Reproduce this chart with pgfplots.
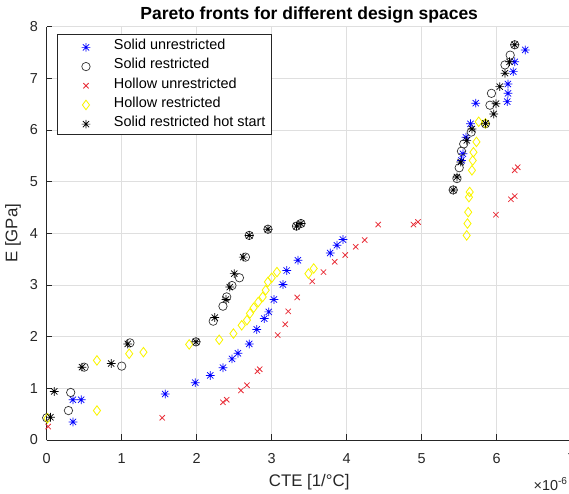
\documentclass[border=0pt]{standalone}
\usepackage{pgfplots}
\pgfplotsset{compat=1.18}
\usepackage{fontspec}
\setmainfont{Liberation Sans}
\definecolor{axgray}{RGB}{38,38,38}
\definecolor{gridgray}{RGB}{223,223,223}
\definecolor{mblue}{RGB}{0,0,255}
\definecolor{mred}{RGB}{232,45,55}
\definecolor{myellow}{RGB}{250,245,0}
\pgfdeclareplotmark{mast}{%
  \pgfpathmoveto{\pgfqpoint{0pt}{\pgfplotmarksize}}\pgfpathlineto{\pgfqpoint{0pt}{-\pgfplotmarksize}}%
  \pgfpathmoveto{\pgfqpoint{\pgfplotmarksize}{0pt}}\pgfpathlineto{\pgfqpoint{-\pgfplotmarksize}{0pt}}%
  \pgfpathmoveto{\pgfqpoint{0.72\pgfplotmarksize}{0.72\pgfplotmarksize}}\pgfpathlineto{\pgfqpoint{-0.72\pgfplotmarksize}{-0.72\pgfplotmarksize}}%
  \pgfpathmoveto{\pgfqpoint{0.72\pgfplotmarksize}{-0.72\pgfplotmarksize}}\pgfpathlineto{\pgfqpoint{-0.72\pgfplotmarksize}{0.72\pgfplotmarksize}}%
  \pgfusepathqstroke}
\begin{document}
\begin{tikzpicture}
\begin{axis}[
  at={(0pt,0pt)}, anchor=south west,
  scale only axis, width=374.85pt, height=295.1pt,
  xmin=0, xmax=7, ymin=0, ymax=8,
  xtick={0,1,2,3,4,5,6,7}, ytick={0,1,2,3,4,5,6,7,8},
  axis x line*=bottom, axis y line*=left,
  axis line style={-, axgray, line width=0.5pt},
  grid=major, major grid style={gridgray, line width=0.5pt},
  tick style={axgray, line width=0.5pt}, major tick length=4pt, tick align=inside,
  ticklabel style={font=\fontsize{10.3}{12}\selectfont, text=axgray},
  /pgf/number format/assume math mode=true,
  xticklabel style={yshift=-6pt},
  yticklabel style={xshift=-2.7pt},
  clip=false,
  only marks,
  title={Pareto fronts for different design spaces},
  every axis title shift=0pt,
  title style={font=\fontsize{12.5}{15}\selectfont\bfseries, at={(axis description cs:0.5,1.0186)}, anchor=base},
  xlabel={CTE [1/°C]},
  xlabel style={font=\fontsize{12}{14}\selectfont, text=axgray, at={(axis description cs:0.5,-0.1128)}, anchor=base},
  ylabel={E [GPa]},
  ylabel style={font=\fontsize{12}{14}\selectfont, text=axgray, at={(axis description cs:-0.056,0.5)}, anchor=base, rotate=0},
  legend style={at={(rel axis cs:0.0196,0.9823)}, anchor=north west, draw=axgray, fill=white,
    font=\fontsize{10.3}{12}\selectfont, inner xsep=0.5pt, inner ysep=1.5pt, row sep=0pt,
    nodes={text height=7.6pt, text depth=2.3pt, inner ysep=1.9pt, inner xsep=3.5pt}},
  legend cell align=left,
  legend image code/.code={\path[draw=none,fill=none] (-20pt,0pt) -- (16.5pt,0pt); \draw[only marks] plot coordinates {(0pt,-1pt)};},
]
\addplot[mblue, mark=mast, mark size=3.1pt, line width=0.5pt] coordinates {
(0.35,0.35) (0.35,0.78) (0.46,0.78) (1.58,0.89) (1.98,1.11) (2.18,1.25) (2.35,1.40)
(2.47,1.57) (2.55,1.68) (2.70,1.86) (2.80,2.14) (2.90,2.35) (2.96,2.48) (3.03,2.72)
(3.15,3.01) (3.20,3.28) (3.35,3.48) (3.78,3.62) (3.87,3.77) (3.95,3.88) (5.53,5.41)
(5.55,5.54) (5.59,5.86) (5.65,6.12) (5.72,6.52) (6.14,6.55) (6.15,6.71) (6.15,6.89)
(6.22,7.13) (6.24,7.32) (6.38,7.55)};
\addlegendentry{Solid unrestricted}
\addplot[black!80, mark=o, mark size=3.0pt, line width=0.5pt] coordinates {
(0.00,0.43) (0.29,0.57) (0.32,0.92) (0.50,1.41) (1.00,1.43) (1.11,1.88) (1.99,1.90)
(2.22,2.30) (2.35,2.59) (2.40,2.77) (2.47,2.99) (2.57,3.14) (2.65,3.54) (2.70,3.96)
(2.95,4.08) (3.33,4.14) (3.39,4.19) (5.42,4.84) (5.47,5.06) (5.50,5.27) (5.53,5.59)
(5.56,5.73) (5.66,5.96) (5.85,6.12) (5.91,6.48) (5.93,6.71) (6.11,7.26) (6.18,7.45)
(6.24,7.65)};
\addlegendentry{Solid restricted}
\addplot[mred, mark=x, mark size=2.7pt, line width=0.55pt] coordinates {
(0.02,0.26) (1.54,0.43) (2.35,0.73) (2.40,0.78) (2.59,0.96) (2.67,1.06) (2.81,1.33)
(2.84,1.37) (3.08,2.03) (3.18,2.24) (3.22,2.49) (3.34,2.76) (3.54,3.07) (3.69,3.25)
(3.84,3.45) (3.98,3.58) (4.12,3.74) (4.24,3.87) (4.42,4.17) (4.89,4.17) (4.95,4.22)
(5.99,4.36) (6.19,4.66) (6.24,4.72) (6.24,5.22) (6.28,5.28)};
\addlegendentry{Hollow unrestricted}
\addplot[myellow, mark=diamond, mark size=3.4pt, line width=0.6pt] coordinates {
(0.01,0.42) (0.67,0.57) (0.67,1.54) (1.10,1.67) (1.29,1.70) (1.90,1.85) (2.30,1.94)
(2.49,2.06) (2.60,2.22) (2.67,2.32) (2.71,2.45) (2.76,2.56) (2.82,2.67) (2.88,2.77)
(2.92,2.90) (2.95,3.06) (3.00,3.14) (3.07,3.25) (3.49,3.22) (3.56,3.32) (5.60,3.96)
(5.61,4.19) (5.62,4.41) (5.63,4.70) (5.64,4.80) (5.67,5.22) (5.68,5.41) (5.69,5.57)
(5.73,5.77) (5.76,6.16) (5.85,6.13)};
\addlegendentry{Hollow restricted}
\addplot[black, mark=mast, mark size=3.1pt, line width=0.5pt] coordinates {
(0.05,0.44) (0.10,0.94) (0.47,1.41) (0.86,1.48) (1.08,1.86) (1.99,1.90) (2.24,2.37)
(2.39,2.72) (2.44,2.96) (2.50,3.22) (2.62,3.54) (2.70,3.96) (2.95,4.08) (3.33,4.14)
(3.39,4.19) (5.42,4.84) (5.47,5.09) (5.52,5.38) (5.60,5.80) (5.67,6.02) (5.85,6.13)
(5.96,6.31) (5.99,6.51) (6.04,6.84) (6.11,7.10) (6.17,7.32) (6.24,7.65)};
\addlegendentry{Solid restricted hot start}
\node[anchor=base east, font=\fontsize{10.3}{12}\selectfont, text=axgray, inner sep=0pt] at (rel axis cs:0.993,-0.121) {×10\textsuperscript{-6}};
\end{axis}
\pgfresetboundingbox
\path[use as bounding box] (-33.34pt,-37.84pt) rectangle (372.92pt,314.16pt);
\end{tikzpicture}
\end{document}
